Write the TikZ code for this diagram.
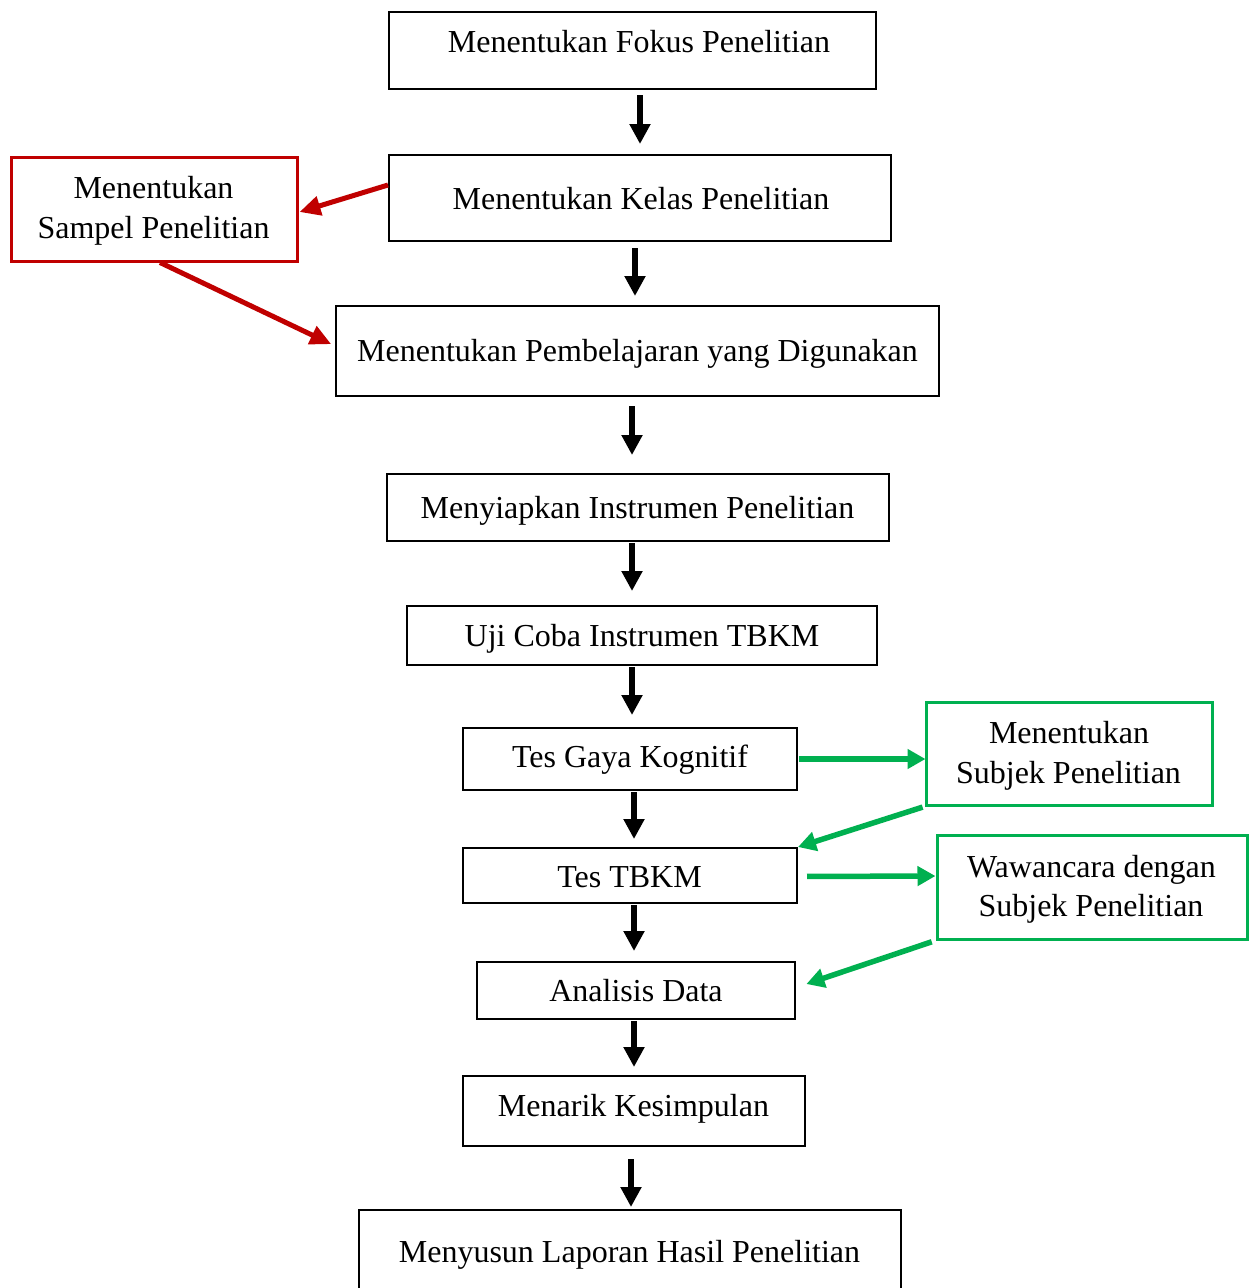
\documentclass[tikz,border=0pt]{standalone}
\usepackage{fontspec}
\setmainfont{Liberation Serif}
\usetikzlibrary{arrows.meta}
\definecolor{myred}{RGB}{192,0,0}
\definecolor{mygreen}{RGB}{0,176,80}
\tikzset{
  box/.style={draw=black, line width=2pt, minimum width=#1, inner sep=0pt},
  rbox/.style={draw=myred, line width=3pt, inner sep=0pt},
  gbox/.style={draw=mygreen, line width=3pt, inner sep=0pt},
  txt/.style={font=\fontsize{32}{38}\selectfont, inner sep=0pt, anchor=base},
  barrow/.style={line width=5.5pt, -{Triangle[length=20pt,width=20pt]}},
  rarrow/.style={draw=myred, line width=5pt, -{Triangle[length=21pt,width=19pt]}},
  garrow/.style={draw=mygreen, line width=5.5pt, -{Triangle[length=18pt,width=19pt]}},
}
\begin{document}
\begin{tikzpicture}[x=1pt,y=-1pt]
\clip (0,0) rectangle (1254,1288);
\fill[white] (0,0) rectangle (1254,1288);
% boxes
\node[box=487pt, minimum height=77pt] (n1) at (632.5,50.5) {};
\node[box=502pt, minimum height=86pt] (n2) at (640,198) {};
\node[box=603pt, minimum height=90pt] (n3) at (637.5,351) {};
\node[box=502pt, minimum height=67pt] (n4) at (638,507.5) {};
\node[box=470pt, minimum height=59pt] (n5) at (642,635.5) {};
\node[box=334pt, minimum height=62pt] (n6) at (630,759) {};
\node[box=334pt, minimum height=55pt] (n7) at (630,875.5) {};
\node[box=318pt, minimum height=57pt] (n8) at (636,990.5) {};
\node[box=342pt, minimum height=70pt] (n9) at (634,1111) {};
\node[box=542pt, minimum height=100pt] (n10) at (630,1260) {};
\node[rbox, minimum width=286pt, minimum height=104pt] (s) at (154,209) {};
\node[gbox, minimum width=286pt, minimum height=103pt] (g1) at (1069,753.5) {};
\node[gbox, minimum width=310pt, minimum height=104pt] (g2) at (1092,887) {};
% texts
\node[txt] (t1) at (639,52) {Menentukan Fokus Penelitian};
\node[txt] (t2) at (641,209) {Menentukan Kelas Penelitian};
\node[txt] (t3) at (637.5,361) {Menentukan Pembelajaran yang Digunakan};
\node[txt] (t4) at (637.5,518) {Menyiapkan Instrumen Penelitian};
\node[txt] (t5) at (642,646) {Uji Coba Instrumen TBKM};
\node[txt] (t6) at (630,767) {Tes Gaya Kognitif};
\node[txt] (t7) at (629.5,887) {Tes TBKM};
\node[txt] (t8) at (636,1001) {Analisis Data};
\node[txt] (t9) at (633.5,1116) {Menarik Kesimpulan};
\node[txt] (t10) at (629.5,1262) {Menyusun Laporan Hasil Penelitian};
\node[txt] (s1) at (153.5,198) {Menentukan};
\node[txt] (s2) at (153.5,238) {Sampel Penelitian};
\node[txt] (g1a) at (1069,743) {Menentukan};
\node[txt] (g1b) at (1068.5,783) {Subjek Penelitian};
\node[txt] (g2a) at (1091.5,877) {Wawancara dengan};
\node[txt] (g2b) at (1091,916) {Subjek Penelitian};
% black arrows
\draw[barrow, shorten <=5pt, shorten >=10pt] ([xshift=7.5pt]n1.south) -- ([xshift=7.5pt]n1.south |- n2.north);
\draw[barrow, shorten <=6pt, shorten >=9pt] ([xshift=-5pt]n2.south) -- ([xshift=-5pt]n2.south |- n3.north);
\draw[barrow, shorten <=9pt, shorten >=18pt] ([xshift=-5.5pt]n3.south) -- ([xshift=-5.5pt]n3.south |- n4.north);
\draw[barrow, shorten <=1pt, shorten >=14pt] ([xshift=-6pt]n4.south) -- ([xshift=-6pt]n4.south |- n5.north);
\draw[barrow, shorten <=1pt, shorten >=12pt] ([xshift=-10pt]n5.south) -- ([xshift=-10pt]n5.south |- n6.north);
\draw[barrow, shorten <=1pt, shorten >=8pt] ([xshift=4pt]n6.south) -- ([xshift=4pt]n6.south |- n7.north);
\draw[barrow, shorten <=1pt, shorten >=10pt] ([xshift=4pt]n7.south) -- ([xshift=4pt]n7.south |- n8.north);
\draw[barrow, shorten <=1pt, shorten >=8pt] ([xshift=-2pt]n8.south) -- ([xshift=-2pt]n8.south |- n9.north);
\draw[barrow, shorten <=12pt, shorten >=2pt] ([xshift=-3pt]n9.south) -- ([xshift=-3pt]n9.south |- n10.north);
% red arrows
\draw[rarrow] ([yshift=13pt]n2.west) -- ([yshift=-3pt,xshift=1pt]s.east);
\draw[rarrow, shorten >=2pt] ([xshift=6pt]s.south) -- ([yshift=6pt,xshift=-2pt]n3.west);
% green arrows
\draw[garrow, shorten <=1pt, shorten >=-1pt] (n6.east) -- ([yshift=-5.5pt]g1.west);
\draw[garrow, shorten <=2pt] (g1.south west) -- (n7.north east);
\draw[garrow, shorten <=9pt] ([yshift=-1pt]n7.east) -- ([yshift=11pt]g2.west);
\draw[garrow, shorten <=4pt, shorten >=11pt] (g2.south west) -- ([yshift=3pt]n8.east);
\end{tikzpicture}
\end{document}
